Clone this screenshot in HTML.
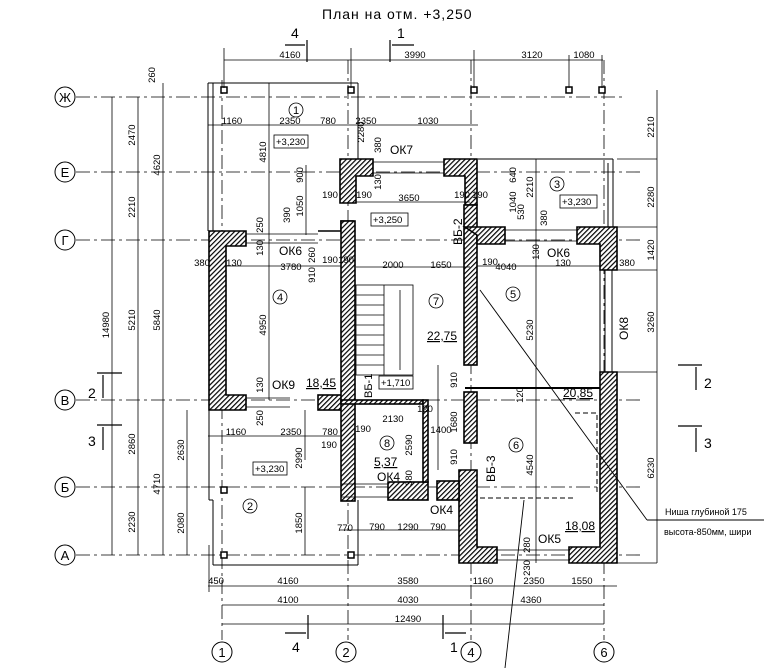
<!DOCTYPE html>
<html><head><meta charset="utf-8"><style>
html,body{margin:0;padding:0;background:#fff;}
svg{display:block;font-family:"Liberation Sans","DejaVu Sans",sans-serif;}
text{fill:#000;}
</style></head><body>
<svg width="764" height="668" viewBox="0 0 764 668" xmlns="http://www.w3.org/2000/svg">
<defs>
<pattern id="h" width="3.5" height="3.5" patternUnits="userSpaceOnUse" patternTransform="rotate(45)">
<rect width="3.5" height="3.5" fill="#fff"/><rect x="0" y="0" width="1.2" height="3.5" fill="#000"/></pattern>
</defs>
<text x="322" y="19" font-size="14" letter-spacing="1">План на отм. +3,250</text>

<g stroke="#000" stroke-width="0.8" stroke-dasharray="14,4,3,4" fill="none">
<line x1="76" y1="97" x2="625" y2="97"/>
<line x1="76" y1="172" x2="640" y2="172"/>
<line x1="76" y1="240" x2="640" y2="240"/>
<line x1="76" y1="400" x2="640" y2="400"/>
<line x1="76" y1="487" x2="640" y2="487"/>
<line x1="76" y1="555" x2="640" y2="555"/>
<line x1="222" y1="80" x2="222" y2="640"/>
<line x1="348" y1="60" x2="348" y2="640"/>
<line x1="471" y1="60" x2="471" y2="640"/>
<line x1="604" y1="60" x2="604" y2="640"/>
</g>
<g stroke="#000" stroke-width="1" fill="#fff" font-size="13">
<circle cx="65" cy="97" r="10"/><circle cx="65" cy="172" r="10"/><circle cx="65" cy="240" r="10"/>
<circle cx="65" cy="400" r="10"/><circle cx="65" cy="487" r="10"/><circle cx="65" cy="555" r="10"/>
<circle cx="222" cy="652" r="10"/><circle cx="346" cy="652" r="10"/><circle cx="471" cy="652" r="10"/><circle cx="604" cy="652" r="10"/>
</g>
<g font-size="13" text-anchor="middle">
<text x="65" y="102">Ж</text><text x="65" y="177">Е</text><text x="65" y="245">Г</text>
<text x="65" y="405">В</text><text x="65" y="492">Б</text><text x="65" y="560">А</text>
<text x="222" y="657">1</text><text x="346" y="657">2</text><text x="471" y="657">4</text><text x="604" y="657">6</text>
</g>

<g stroke="#000" stroke-width="1" fill="none">
<line x1="208" y1="83" x2="358" y2="83"/>
<line x1="208" y1="83" x2="208" y2="231"/><line x1="213" y1="83" x2="213" y2="231"/>
<line x1="358" y1="83" x2="358" y2="160"/>
<line x1="478" y1="159" x2="613" y2="159"/><line x1="613" y1="159" x2="613" y2="228"/><line x1="608" y1="163" x2="608" y2="228"/>
<line x1="209" y1="410" x2="209" y2="500"/><line x1="209" y1="500" x2="213" y2="500"/><line x1="213" y1="500" x2="213" y2="565"/>
<line x1="213" y1="565" x2="358" y2="565"/><line x1="358" y1="500" x2="358" y2="565"/>
<line x1="600" y1="244" x2="600" y2="372"/><line x1="605" y1="244" x2="605" y2="372"/><line x1="612" y1="244" x2="612" y2="372"/>
<line x1="465" y1="388" x2="600" y2="388" stroke-width="2"/>
</g>

<g fill="url(#h)" stroke="#000" stroke-width="1.6">
<path d="M209 231 H246 V246 H226 V395 H246 V410 H209 Z"/>
<path d="M318 231 H353 V221 H341 V231 Z"/>
<rect x="318" y="395" width="30" height="15"/>
<path d="M340 159 H373 V176 H356 V203 H340 Z"/>
<rect x="341" y="221" width="14" height="280"/>
<path d="M444 159 H477 V205 H465 V176 H444 Z"/>
<rect x="464" y="205" width="13" height="160"/>
<rect x="464" y="392" width="13" height="51"/>
<path d="M465 227 H505 V244 H477 V235 Z"/>
<path d="M577 227 H617 V270 H600 V244 H577 Z"/>
<path d="M600 372 H617 V563 H569 V547 H600 Z"/>
<path d="M459 470 H477 V547 H497 V563 H459 Z"/>
<rect x="388" y="482" width="40" height="18"/>
<rect x="341" y="400" width="82" height="4"/>
<rect x="423" y="400" width="5" height="82"/>
<rect x="437" y="481" width="22" height="19"/>
</g>
<g stroke="#000" stroke-width="0.8" fill="none">
<line x1="246" y1="234" x2="318" y2="234"/><line x1="246" y1="243" x2="318" y2="243"/>
<line x1="505" y1="230" x2="577" y2="230"/><line x1="505" y1="241" x2="577" y2="241"/>
<line x1="246" y1="398" x2="290" y2="398"/><line x1="246" y1="407" x2="290" y2="407"/>
<line x1="373" y1="162" x2="444" y2="162"/><line x1="373" y1="173" x2="444" y2="173"/>
<line x1="497" y1="550" x2="569" y2="550"/><line x1="497" y1="560" x2="569" y2="560"/>
<line x1="341" y1="484" x2="388" y2="484"/><line x1="341" y1="497" x2="388" y2="497"/>
</g>
<g stroke="#000" stroke-width="0.8" fill="none">
<rect x="356" y="285" width="57" height="90"/>
<line x1="384" y1="285" x2="384" y2="375"/>
<line x1="356" y1="295" x2="384" y2="295"/><line x1="356" y1="305" x2="384" y2="305"/><line x1="356" y1="315" x2="384" y2="315"/>
<line x1="356" y1="325" x2="384" y2="325"/><line x1="356" y1="335" x2="384" y2="335"/><line x1="356" y1="345" x2="384" y2="345"/>
<line x1="356" y1="355" x2="384" y2="355"/><line x1="356" y1="365" x2="384" y2="365"/>
<line x1="400" y1="290" x2="400" y2="370"/>
</g>
<path d="M575 413 H597 V495 M573 498 H477" stroke="#000" stroke-dasharray="5,3" fill="none"/>
<g stroke="#000" stroke-width="0.9" fill="none">
<line x1="480" y1="290" x2="647" y2="520"/><line x1="647" y1="520" x2="764" y2="520"/>
<line x1="524" y1="500" x2="505" y2="668"/>
</g>

<g fill="#fff" stroke="#000" stroke-width="1.5">
<rect x="221" y="87" width="6" height="6"/><rect x="348" y="87" width="6" height="6"/>
<rect x="471" y="87" width="6" height="6"/><rect x="566" y="87" width="6" height="6"/><rect x="599" y="87" width="6" height="6"/>
<rect x="221" y="487" width="6" height="6"/>
<rect x="221" y="552" width="6" height="6"/><rect x="348" y="552" width="6" height="6"/>
</g>

<g stroke="#000" stroke-width="0.8" fill="none">
<line x1="112" y1="97" x2="112" y2="555"/>
<line x1="138" y1="97" x2="138" y2="555"/>
<line x1="163" y1="83" x2="163" y2="555"/>
<line x1="187" y1="410" x2="187" y2="555"/>
<line x1="657" y1="90" x2="657" y2="563"/>
<line x1="224" y1="60" x2="603" y2="60"/>
<line x1="208" y1="586" x2="617" y2="586"/>
<line x1="222" y1="605" x2="604" y2="605"/>
<line x1="222" y1="624" x2="604" y2="624"/>
<line x1="208" y1="125" x2="478" y2="125"/>
<line x1="208" y1="436" x2="340" y2="436"/>
<line x1="226" y1="266" x2="341" y2="266"/>
<line x1="477" y1="266" x2="600" y2="266"/>
<line x1="356" y1="202" x2="470" y2="202"/>
<line x1="356" y1="267" x2="470" y2="267"/>
<line x1="269" y1="83" x2="269" y2="400"/>
<line x1="536" y1="159" x2="536" y2="563"/>
<line x1="306" y1="165" x2="306" y2="235"/>
<line x1="305" y1="487" x2="305" y2="555"/>
<line x1="305" y1="410" x2="305" y2="460"/>
<line x1="438" y1="365" x2="438" y2="470"/>
<line x1="340" y1="530" x2="459" y2="530"/>
<line x1="209" y1="545" x2="209" y2="592"/>
<line x1="224" y1="48" x2="224" y2="88"/><line x1="351" y1="48" x2="351" y2="88"/><line x1="474" y1="50" x2="474" y2="88"/>
<line x1="569" y1="55" x2="569" y2="88"/><line x1="602" y1="55" x2="602" y2="88"/>
<line x1="617" y1="563" x2="657" y2="563"/><line x1="617" y1="372" x2="657" y2="372"/>
<line x1="617" y1="270" x2="657" y2="270"/><line x1="617" y1="227" x2="657" y2="227"/><line x1="617" y1="159" x2="657" y2="159"/>
</g>
<g stroke="#000" stroke-width="1.2" fill="none">
<line x1="307" y1="40" x2="307" y2="62"/><line x1="285" y1="45" x2="305" y2="45"/>
<line x1="390" y1="40" x2="390" y2="62"/><line x1="392" y1="45" x2="414" y2="45"/>
<line x1="97" y1="373" x2="122" y2="373"/><line x1="103" y1="375" x2="103" y2="398"/>
<line x1="97" y1="425" x2="122" y2="425"/><line x1="103" y1="427" x2="103" y2="450"/>
<line x1="678" y1="365" x2="702" y2="365"/><line x1="696" y1="367" x2="696" y2="390"/>
<line x1="678" y1="426" x2="702" y2="426"/><line x1="696" y1="428" x2="696" y2="452"/>
<line x1="308" y1="615" x2="308" y2="639"/><line x1="285" y1="633" x2="306" y2="633"/>
<line x1="443" y1="615" x2="443" y2="639"/><line x1="445" y1="633" x2="466" y2="633"/>
</g>
<g font-size="14">
<text x="291" y="38">4</text><text x="397" y="38">1</text><text x="88" y="398">2</text><text x="88" y="446">3</text>
<text x="704" y="388">2</text><text x="704" y="448">3</text><text x="292" y="652">4</text><text x="450" y="652">1</text>
</g>

<g font-size="9.5" text-anchor="middle">
<text x="290" y="58">4160</text><text x="415" y="58">3990</text><text x="532" y="58">3120</text><text x="584" y="58">1080</text>
<text x="232" y="124">1160</text><text x="290" y="124">2350</text><text x="328" y="124">780</text><text x="366" y="124">2350</text><text x="428" y="124">1030</text>
<text x="236" y="435">1160</text><text x="291" y="435">2350</text><text x="330" y="435">780</text>
<text x="291" y="270">3780</text><text x="506" y="270">4040</text><text x="409" y="201">3650</text>
<text x="393" y="268">2000</text><text x="441" y="268">1650</text>
<text x="393" y="422">2130</text><text x="441" y="433">1400</text><text x="425" y="412">120</text>
<text x="377" y="530">790</text><text x="408" y="530">1290</text><text x="438" y="530">790</text>
<text x="288" y="584">4160</text><text x="408" y="584">3580</text><text x="483" y="584">1160</text><text x="534" y="584">2350</text><text x="582" y="584">1550</text>
<text x="288" y="603">4100</text><text x="408" y="603">4030</text><text x="531" y="603">4360</text>
<text x="408" y="622">12490</text><text x="216" y="584">450</text>
<text x="202" y="266">380</text><text x="234" y="266">130</text><text x="563" y="266">130</text><text x="627" y="266">380</text>
<text x="330" y="198">190</text><text x="330" y="263">190</text><text x="346" y="263">190</text>
<text x="364" y="198">190</text><text x="462" y="198">190</text><text x="480" y="198">190</text><text x="490" y="265">190</text>
<text x="329" y="448">190</text><text x="363" y="432">190</text><text x="345" y="531">770</text>
</g>
<g font-size="9.5" text-anchor="middle">
<text transform="translate(109,325) rotate(-90)">14980</text>
<text transform="translate(135,135) rotate(-90)">2470</text>
<text transform="translate(135,207) rotate(-90)">2210</text>
<text transform="translate(135,320) rotate(-90)">5210</text>
<text transform="translate(135,444) rotate(-90)">2860</text>
<text transform="translate(135,522) rotate(-90)">2230</text>
<text transform="translate(160,165) rotate(-90)">4620</text>
<text transform="translate(160,320) rotate(-90)">5840</text>
<text transform="translate(160,484) rotate(-90)">4710</text>
<text transform="translate(184,450) rotate(-90)">2630</text>
<text transform="translate(184,523) rotate(-90)">2080</text>
<text transform="translate(266,152) rotate(-90)">4810</text>
<text transform="translate(266,325) rotate(-90)">4950</text>
<text transform="translate(302,458) rotate(-90)">2990</text>
<text transform="translate(302,523) rotate(-90)">1850</text>
<text transform="translate(533,330) rotate(-90)">5230</text>
<text transform="translate(533,465) rotate(-90)">4540</text>
<text transform="translate(533,187) rotate(-90)">2210</text>
<text transform="translate(654,127) rotate(-90)">2210</text>
<text transform="translate(654,197) rotate(-90)">2280</text>
<text transform="translate(654,250) rotate(-90)">1420</text>
<text transform="translate(654,322) rotate(-90)">3260</text>
<text transform="translate(654,468) rotate(-90)">6230</text>
<text transform="translate(155,75) rotate(-90)">260</text>
<text transform="translate(303,175) rotate(-90)">900</text>
<text transform="translate(303,206) rotate(-90)">1050</text>
<text transform="translate(290,215) rotate(-90)">390</text>
<text transform="translate(263,225) rotate(-90)">250</text>
<text transform="translate(263,248) rotate(-90)">130</text>
<text transform="translate(315,255) rotate(-90)">260</text>
<text transform="translate(315,275) rotate(-90)">910</text>
<text transform="translate(263,385) rotate(-90)">130</text>
<text transform="translate(263,418) rotate(-90)">250</text>
<text transform="translate(364,132) rotate(-90)">2280</text>
<text transform="translate(381,145) rotate(-90)">380</text>
<text transform="translate(381,182) rotate(-90)">130</text>
<text transform="translate(516,175) rotate(-90)">640</text>
<text transform="translate(516,202) rotate(-90)">1040</text>
<text transform="translate(524,212) rotate(-90)">530</text>
<text transform="translate(547,218) rotate(-90)">380</text>
<text transform="translate(539,252) rotate(-90)">130</text>
<text transform="translate(457,380) rotate(-90)">910</text>
<text transform="translate(457,422) rotate(-90)">1680</text>
<text transform="translate(457,457) rotate(-90)">910</text>
<text transform="translate(523,395) rotate(-90)">120</text>
<text transform="translate(412,445) rotate(-90)">2590</text>
<text transform="translate(412,478) rotate(-90)">380</text>
<text transform="translate(530,545) rotate(-90)">280</text>
<text transform="translate(530,568) rotate(-90)">230</text>
</g>

<g stroke="#000" stroke-width="0.8" fill="none">
<circle cx="296" cy="110" r="7"/><circle cx="280" cy="297" r="7"/>
<circle cx="250" cy="506" r="7"/><circle cx="436" cy="301" r="7"/>
<circle cx="513" cy="294" r="7"/><circle cx="557" cy="184" r="7"/>
<circle cx="516" cy="445" r="7"/><circle cx="387" cy="443" r="7"/>
</g>
<g font-size="11" text-anchor="middle">
<text x="296" y="114">1</text><text x="280" y="301">4</text><text x="250" y="510">2</text><text x="436" y="305">7</text>
<text x="513" y="298">5</text><text x="557" y="188">3</text><text x="516" y="449">6</text><text x="387" y="447">8</text>
</g>
<g stroke="#000" stroke-width="0.8" fill="#fff">
<rect x="274" y="135" width="34" height="13"/><rect x="371" y="213" width="37" height="13"/>
<rect x="560" y="195" width="37" height="13"/><rect x="253" y="462" width="34" height="13"/>
<rect x="379" y="376" width="34" height="13"/>
</g>
<g font-size="9.5">
<text x="276" y="145">+3,230</text><text x="373" y="223">+3,250</text><text x="562" y="205">+3,230</text>
<text x="255" y="472">+3,230</text><text x="381" y="386">+1,710</text>
</g>
<g font-size="12">
<text x="390" y="154">ОК7</text><text x="279" y="255">ОК6</text><text x="547" y="257">ОК6</text>
<text x="272" y="389">ОК9</text><text x="377" y="481">ОК4</text><text x="430" y="514">ОК4</text><text x="538" y="543">ОК5</text>
<text transform="translate(628,340) rotate(-90)">ОК8</text>
<text transform="translate(462,245) rotate(-90)">ВБ-2</text>
<text transform="translate(372,398) rotate(-90)" font-size="11">ВБ-1</text>
<text transform="translate(495,482) rotate(-90)">ВБ-3</text>
<text x="306" y="387" text-decoration="underline">18,45</text>
<text x="427" y="340" text-decoration="underline">22,75</text>
<text x="563" y="397" text-decoration="underline">20,85</text>
<text x="374" y="466" text-decoration="underline">5,37</text>
<text x="565" y="530" text-decoration="underline">18,08</text>
</g>
<g font-size="9">
<text x="665" y="515">Ниша глубиной 175</text>
<text x="664" y="535">высота-850мм, шири</text>
</g>
</svg>
</body></html>
